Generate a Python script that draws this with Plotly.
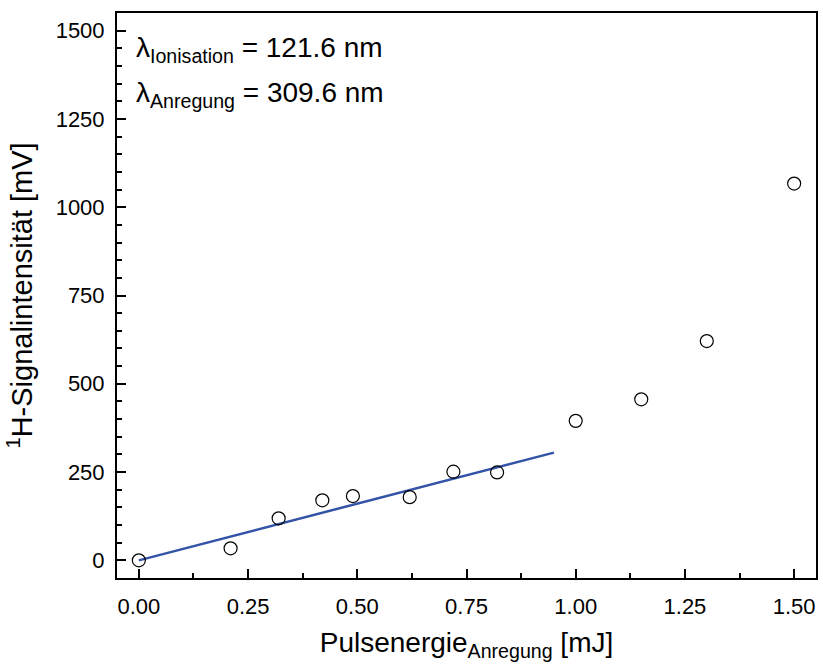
import plotly.graph_objects as go

# Measured signal vs. excitation pulse energy
pulse_energy = [0.0, 0.21, 0.32, 0.42, 0.49, 0.62, 0.72, 0.82, 1.00, 1.15, 1.30, 1.50]
signal_mv = [0, 34, 119, 170, 182, 179, 251, 249, 395, 456, 621, 1067]

# Linear fit over the low-energy region (endpoints)
fit_x = [0.0, 0.95]
fit_y = [0, 305]

x_ticks = [0.0, 0.25, 0.5, 0.75, 1.0, 1.25, 1.5]
x_tick_labels = ["0.00", "0.25", "0.50", "0.75", "1.00", "1.25", "1.50"]
y_ticks = [0, 250, 500, 750, 1000, 1250, 1500]

FONT = "Liberation Sans, Arial, sans-serif"

fig = go.Figure()
fig.add_trace(go.Scatter(
    x=fit_x, y=fit_y, mode="lines",
    line=dict(color="#3353a8", width=2.5),
    showlegend=False, hoverinfo="skip",
))
fig.add_trace(go.Scatter(
    x=pulse_energy, y=signal_mv, mode="markers",
    marker=dict(symbol="circle-open", size=13, color="black", line=dict(width=1.2)),
    showlegend=False,
))

axis_common = dict(
    showgrid=False, zeroline=False, showline=True, linecolor="black", linewidth=2,
    mirror=True, ticks="inside", tickcolor="black", tickwidth=2, ticklen=9,
    tickfont=dict(family=FONT, size=22, color="black"),
)

fig.update_xaxes(
    range=[-0.05, 1.55], tickvals=x_ticks, ticktext=x_tick_labels,
    ticklabelstandoff=8,
    minor=dict(ticks="inside", ticklen=5, tickwidth=2, tickcolor="black", dtick=0.125, tick0=0),
    title=dict(text="Pulsenergie<sub>Anregung</sub> [mJ]", font=dict(family=FONT, size=28, color="black"), standoff=14),
    **axis_common,
)
fig.update_yaxes(
    range=[-50, 1550], tickvals=y_ticks,
    ticklabelstandoff=6,
    minor=dict(ticks="inside", ticklen=5, tickwidth=2, tickcolor="black", dtick=50, tick0=0),
    title=dict(text="<sup>1</sup>H-Signalintensität [mV]", font=dict(family=FONT, size=29, color="black"), standoff=14),
    **axis_common,
)

fig.add_annotation(
    x=0.0, y=0.97, xref="paper", yref="paper", xanchor="left", yanchor="top",
    text="λ<sub>Ionisation</sub> = 121.6 nm", showarrow=False,
    font=dict(family=FONT, size=28, color="black"), xshift=17,
)
fig.add_annotation(
    x=0.0, y=0.89, xref="paper", yref="paper", xanchor="left", yanchor="top",
    text="λ<sub>Anregung</sub> = 309.6 nm", showarrow=False,
    font=dict(family=FONT, size=28, color="black"), xshift=17,
)

fig.update_layout(
    width=823, height=664,
    margin=dict(l=117, r=5, t=13, b=86),
    paper_bgcolor="white", plot_bgcolor="white",
)

fig.write_html("out.html")
